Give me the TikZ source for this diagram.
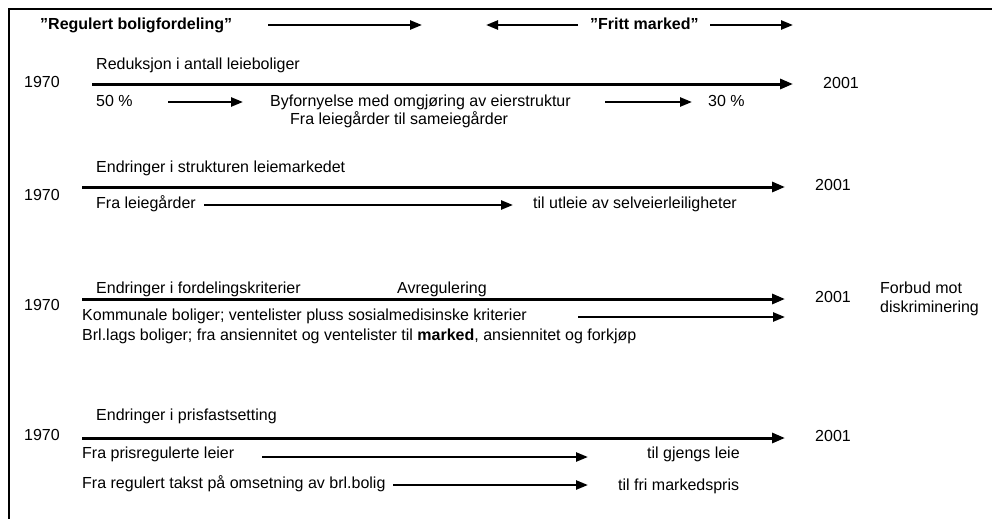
\documentclass[tikz,border=0pt]{standalone}
\usepackage{fontspec}
\setmainfont{Liberation Sans}
\usetikzlibrary{arrows.meta}
\begin{document}
\begin{tikzpicture}[x=1pt,y=-1pt,
  lbl/.style={anchor=base west,inner sep=0pt,font=\fontsize{16}{19}\selectfont},
  hdr/.style={lbl,font=\fontsize{16}{19}\selectfont\bfseries},
  axis/.style={line width=3pt,-{Triangle[length=13pt,width=10pt]}},
  flow/.style={line width=2.4pt,-{Triangle[length=12pt,width=9pt]}},
  frame/.style={line width=2.2pt}]
\useasboundingbox (0,0) rectangle (992,519);
% open frame: top and left edges only
\coordinate (fTL) at (9,9);
\coordinate (fTR) at (992,9);
\coordinate (fBL) at (9,519);
\draw[frame] (fTR) -- (fTL) -- (fBL);

% header
\node[hdr] (hreg) at (40,30) {”Regulert boligfordeling”};
\node[hdr] (hfri) at (590,30) {”Fritt marked”};
\coordinate (h1a) at (268,25); \coordinate (h1b) at (422,25);
\coordinate (h2a) at (578,25); \coordinate (h2b) at (486,25);
\coordinate (h3a) at (710,25); \coordinate (h3b) at (793,25);
\draw[flow] (h1a) -- (h1b);
\draw[flow] (h2a) -- (h2b);
\draw[flow] (h3a) -- (h3b);

% row 1: reduction in rental housing
\node[lbl] (r1t) at (96,70) {Reduksjon i antall leieboliger};
\node[lbl] (r1s) at (24,87) {1970};
\node[lbl] (r1e) at (823,88) {2001};
\coordinate (r1a) at (92,84); \coordinate (r1b) at (793,84);
\draw[axis] (r1a) -- (r1b);
\node[lbl] (r1p) at (96,106) {50 \%};
\coordinate (r1c) at (168,102); \coordinate (r1d) at (243,102);
\draw[flow] (r1c) -- (r1d);
\node[lbl] (r1m) at (270,106) {Byfornyelse med omgjøring av eierstruktur};
\coordinate (r1f) at (605,102); \coordinate (r1g) at (692,102);
\draw[flow] (r1f) -- (r1g);
\node[lbl] (r1q) at (708,106) {30 \%};
\node[lbl] (r1n) at (290,124) {Fra leiegårder til sameiegårder};

% row 2: structure of the rental market
\node[lbl] (r2t) at (96,172) {Endringer i strukturen leiemarkedet};
\node[lbl] (r2s) at (24,200) {1970};
\node[lbl] (r2e) at (815,190) {2001};
\coordinate (r2a) at (82,187); \coordinate (r2b) at (785,187);
\draw[axis] (r2a) -- (r2b);
\node[lbl] (r2f) at (96,208) {Fra leiegårder};
\coordinate (r2c) at (204,205); \coordinate (r2d) at (513,205);
\draw[flow] (r2c) -- (r2d);
\node[lbl] (r2u) at (533,208) {til utleie av selveierleiligheter};

% row 3: allocation criteria
\node[lbl] (r3t) at (96,293) {Endringer i fordelingskriterier};
\node[lbl] (r3r) at (397,293) {Avregulering};
\node[lbl] (r3s) at (24,310) {1970};
\node[lbl] (r3e) at (815,302) {2001};
\node[lbl] (r3x) at (880,293) {Forbud mot};
\node[lbl] (r3y) at (880,312) {diskriminering};
\coordinate (r3a) at (82,299); \coordinate (r3b) at (785,299);
\draw[axis] (r3a) -- (r3b);
\node[lbl] (r3k) at (82,320) {Kommunale boliger; ventelister pluss sosialmedisinske kriterier};
\coordinate (r3c) at (578,317); \coordinate (r3d) at (785,317);
\draw[flow] (r3c) -- (r3d);
\node[lbl] (r3b2) at (82,340) {Brl.lags boliger; fra ansiennitet og ventelister til \textbf{marked}, ansiennitet og forkjøp};

% row 4: price setting
\node[lbl] (r4t) at (96,420) {Endringer i prisfastsetting};
\node[lbl] (r4s) at (24,440) {1970};
\node[lbl] (r4e) at (815,441) {2001};
\coordinate (r4a) at (82,438); \coordinate (r4b) at (785,438);
\draw[axis] (r4a) -- (r4b);
\node[lbl] (r4p) at (82,458) {Fra prisregulerte leier};
\coordinate (r4c) at (262,457); \coordinate (r4d) at (588,457);
\draw[flow] (r4c) -- (r4d);
\node[lbl] (r4g) at (647,458) {til gjengs leie};
\node[lbl] (r4k) at (82,488) {Fra regulert takst på omsetning av brl.bolig};
\coordinate (r4f) at (393,485); \coordinate (r4h) at (588,485);
\draw[flow] (r4f) -- (r4h);
\node[lbl] (r4m) at (618,490) {til fri markedspris};
\end{tikzpicture}
\end{document}
